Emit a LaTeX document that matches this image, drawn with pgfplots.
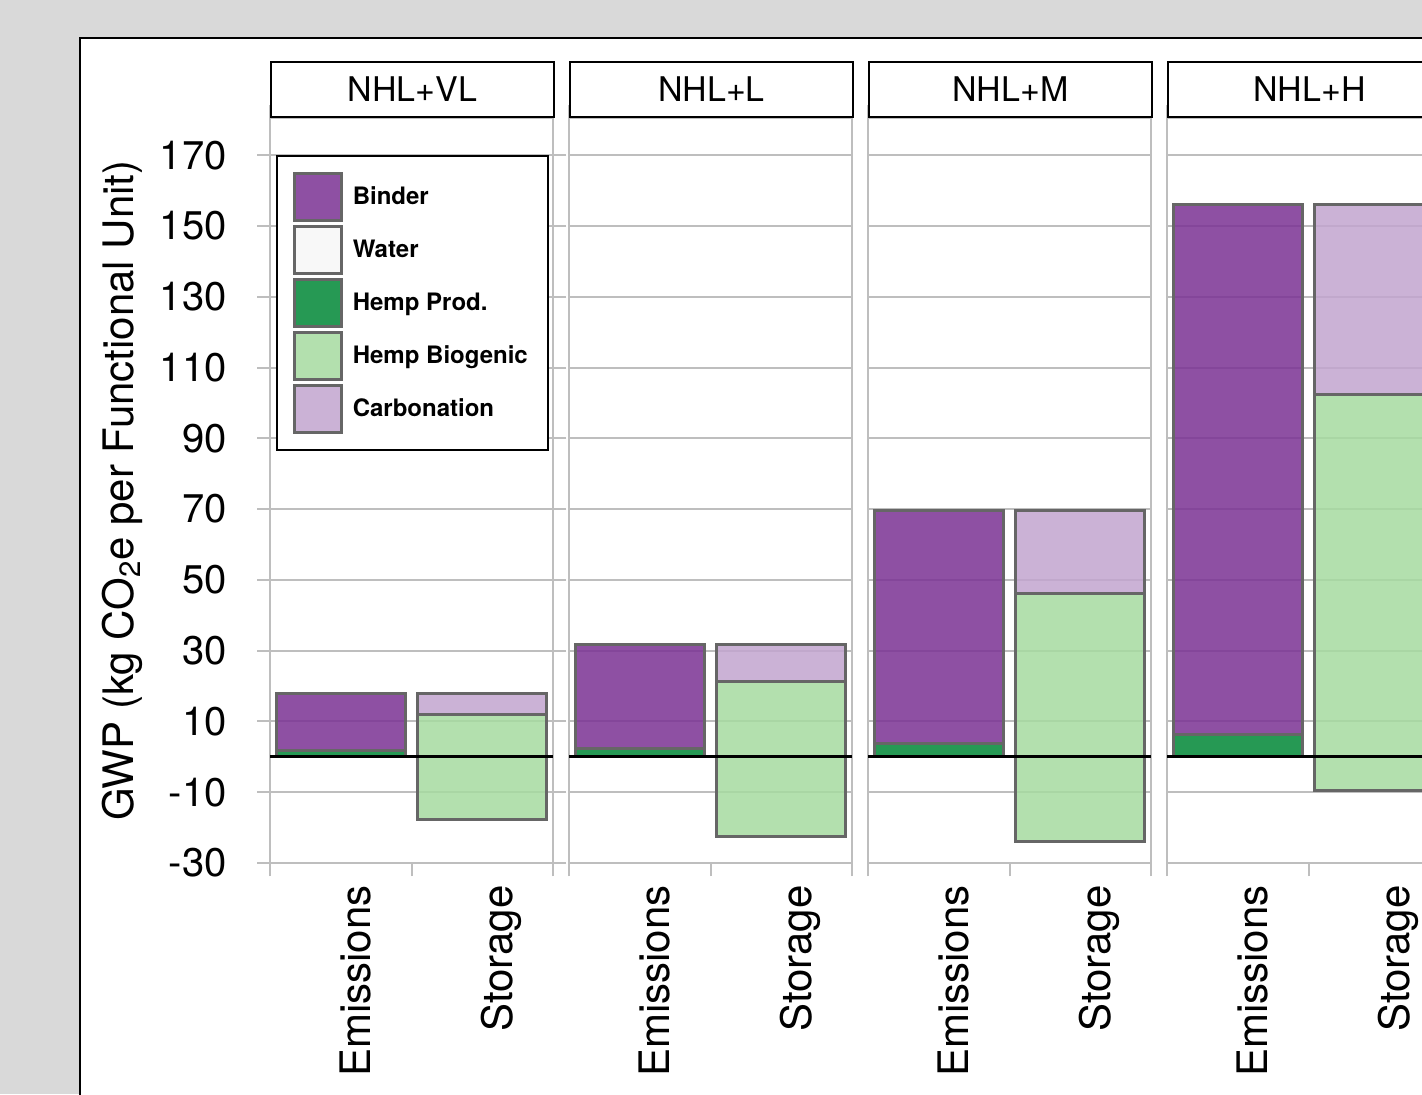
\documentclass[border=0pt]{standalone}
\usepackage{pgfplots}
\usepackage{pgfplotstable}
\pgfplotsset{compat=1.18}
\usepackage{fontspec}
\setmainfont{TeX Gyre Heros}

\definecolor{bgpanel}{HTML}{D9D9D9}
\definecolor{binder}{HTML}{7B3294}
\definecolor{water}{HTML}{F7F7F7}
\definecolor{hempprod}{HTML}{008837}
\definecolor{biogenic}{HTML}{A6DBA0}
\definecolor{carbonation}{HTML}{C2A5CF}
\definecolor{gridgray}{HTML}{BEBEBE}
\definecolor{edgegray}{HTML}{666666}

% x: 0 = Emissions, 1 = Storage; base = invisible offset for the floating storage bar
\pgfplotstableread{
x base hempprod binder biogenic carbonation
0 0     1.8 16.0   0.0  0.0
1 -17.8 0.0  0.0  29.7  5.9
}\tabVL
\pgfplotstableread{
x base hempprod binder biogenic carbonation
0 0     2.3 29.4   0.0  0.0
1 -22.5 0.0  0.0  43.8 10.4
}\tabL
\pgfplotstableread{
x base hempprod binder biogenic carbonation
0 0     3.9 65.8   0.0  0.0
1 -23.9 0.0  0.0  70.0 23.6
}\tabM
\pgfplotstableread{
x base hempprod binder biogenic carbonation
0 0     6.2 149.9   0.0  0.0
1 -9.4  0.0   0.0 111.8 53.7
}\tabH

\pgfplotsset{
  swatch/.style={legend image code/.code={%
      \draw[##1, fill opacity=0.85, draw=edgegray, line width=1.5pt]
        (0pt,-11.75pt) rectangle (23.5pt,11.75pt);}},
  seg/.style={fill=#1, fill opacity=0.85, draw=edgegray, line width=1.5pt, forget plot},
  facet/.style={
    scale only axis, width=141.5pt, height=372.5pt,
    anchor=south west,
    xmin=-0.5, xmax=1.5, ymin=-30, ymax=180.5,
    ybar stacked, stack negative=on previous, reverse stacked plots=false,
    bar width=0.91,
    clip mode=individual,
    axis line style={gridgray, line width=1pt},
    ytick={-30,-10,10,30,50,70,90,110,130,150,170},
    ymajorgrids, major grid style={gridgray, line width=1pt},
    xtick={-0.5,0.5,1.5}, xticklabels={},
    tick align=outside, major tick length=6.5pt,
    tick style={gridgray, line width=1pt},
    extra x ticks={0,1}, extra x tick labels={Emissions,Storage},
    extra x tick style={major tick length=0pt},
    xticklabel style={font=\fontsize{21}{21}\selectfont, inner sep=0pt,
      xshift=15pt, yshift=-11pt, rotate=90, anchor=base east},
    yticklabels={}, ytick style={draw=none},
  },
}

% draw the stacked segments of one facet from its table, then the zero line
\newcommand{\facetbars}[1]{%
  \addplot[draw=none, fill=none, forget plot] table[x=x, y=base] {#1};
  \addplot[seg=hempprod] table[x=x, y=hempprod] {#1};
  \addplot[seg=binder] table[x=x, y=binder] {#1};
  \addplot[seg=biogenic] table[x=x, y=biogenic] {#1};
  \addplot[seg=carbonation] table[x=x, y=carbonation] {#1};
  \addplot[stack plots=false, sharp plot, black, line width=1.5pt, forget plot]
    coordinates {(-0.5,0) (1.5,0)};
}
\newcommand{\strip}[1]{%
  \node[draw=black, line width=0.9pt, fill=white, anchor=south west, inner sep=0pt,
        minimum width=141.5pt, minimum height=27.5pt,
        font=\fontsize{17}{17}\selectfont] at (rel axis cs:0,1) {#1};
}

\begin{document}
\begin{tikzpicture}
\useasboundingbox (0,0) rectangle (711pt,547pt);
\clip (0,0) rectangle (711pt,547pt);
\fill[bgpanel] (0,0) rectangle (711pt,547pt);
\filldraw[fill=white, draw=black, line width=1.2pt] (40pt,-20pt) rectangle (740pt,528pt);

\begin{axis}[facet, at={(135pt,115.5pt)},
  yticklabels={-30,-10,10,30,50,70,90,110,130,150,170},
  ytick style={draw=gridgray},
  yticklabel style={font=\fontsize{20}{20}\selectfont, inner sep=0pt, anchor=east, xshift=-15pt},
  ylabel={GWP (kg CO\textsubscript{2}e per Functional Unit)},
  ylabel style={font=\fontsize{21}{21}\selectfont, at={(axis description cs:-0.521,0.5)}, anchor=center},
  legend style={at={(0,1)}, anchor=north west, xshift=3pt, yshift=-18.5pt,
    draw=black, line width=0.75pt, fill=white,
    font=\fontsize{12}{14}\selectfont\bfseries,
    inner xsep=8pt, inner ysep=8pt, row sep=1.5pt, column sep=3pt},
  legend cell align=left,
]
\facetbars{\tabVL}
\addlegendimage{swatch, fill=binder}
\addlegendentry{Binder}
\addlegendimage{swatch, fill=water}
\addlegendentry{Water}
\addlegendimage{swatch, fill=hempprod}
\addlegendentry{Hemp Prod.}
\addlegendimage{swatch, fill=biogenic}
\addlegendentry{Hemp Biogenic}
\addlegendimage{swatch, fill=carbonation}
\addlegendentry{Carbonation}
\strip{NHL+VL}
\end{axis}

\begin{axis}[facet, at={(284.5pt,115.5pt)}]
\facetbars{\tabL}
\strip{NHL+L}
\end{axis}

\begin{axis}[facet, at={(434pt,115.5pt)}]
\facetbars{\tabM}
\strip{NHL+M}
\end{axis}

\begin{axis}[facet, at={(583.5pt,115.5pt)}]
\facetbars{\tabH}
\strip{NHL+H}
\end{axis}
\end{tikzpicture}
\end{document}
